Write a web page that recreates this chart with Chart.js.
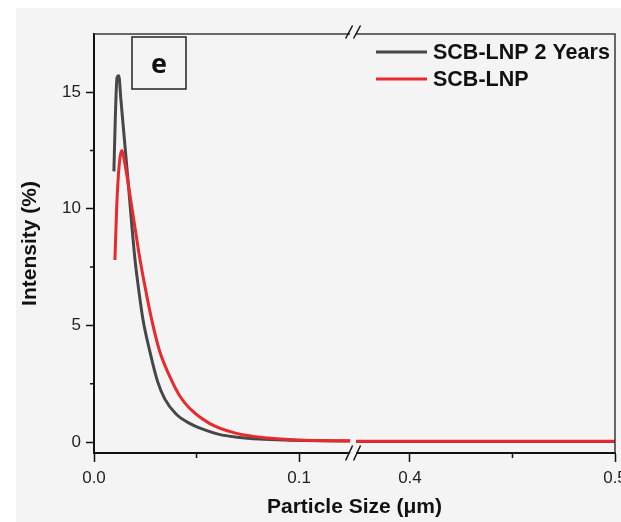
<!DOCTYPE html>
<html>
<head>
<meta charset="utf-8">
<title>Particle size distribution</title>
<script src="https://cdn.jsdelivr.net/npm/chart.js@4/dist/chart.umd.min.js"></script>
<style>
    html, body { margin: 0; padding: 0; background: #ffffff; }
    #wrap { width: 621px; height: 522px; }
</style>
</head>
<body>
<div id="wrap"><canvas id="canvasDls"></canvas></div>
<script>
"use strict";

// ============================================================
// DATA (x in µm, y in %)
// ============================================================
const labelOld = "SCB-LNP 2 Years";
const labelNew = "SCB-LNP";

const sizeOld      = [0.0097, 0.0104, 0.0112, 0.0121, 0.0131, 0.0165, 0.0199, 0.0214, 0.0238, 0.0272, 0.0310, 0.0345, 0.0400, 0.0466, 0.0530, 0.0610, 0.0700, 0.0806, 0.0950, 0.1100, 0.1249, 0.3737, 0.5000];
const intensityOld = [11.6, 13.9, 15.6, 15.7, 14.7, 11.3, 7.9, 6.8, 5.3, 3.9, 2.6, 1.85, 1.2, 0.8, 0.55, 0.33, 0.21, 0.13, 0.08, 0.05, 0.04, 0.02, 0.02];

const sizeNew      = [0.0102, 0.0110, 0.0118, 0.0127, 0.0136, 0.0145, 0.0184, 0.0223, 0.0248, 0.0280, 0.0320, 0.0370, 0.0420, 0.0466, 0.0563, 0.0690, 0.0850, 0.1000, 0.1249, 0.3737, 0.5000];
const intensityNew = [7.8, 9.9, 11.3, 12.2, 12.5, 12.2, 10.1, 7.9, 6.7, 5.3, 3.9, 2.8, 1.95, 1.45, 0.8, 0.38, 0.17, 0.09, 0.05, 0.03, 0.03];

const xTicks      = [0.0, 0.1, 0.4, 0.5];
const xMinorTicks = [0.05, 0.45];
const yTicks      = [0, 5, 10, 15];
const yMinorTicks = [2.5, 7.5, 12.5];

// broken x axis: [0, BREAK_FROM] then [BREAK_TO, X_MAX]
const BREAK_FROM = 0.1249;
const BREAK_TO   = 0.3737;
const BREAK_GAP  = 0.0029;
const X_MAX = 0.5;
const Y_MIN = -0.47;
const Y_MAX = 17.49;

const COL_OLD = "#474747";
const COL_NEW = "#e8292e";
const BG = "#f4f4f4";

// ============================================================
// AXIS BREAK — real value <-> position on the linear scale
// ============================================================
function toAxis(x) {
    if (x <= BREAK_FROM) return x;
    return x - BREAK_TO + BREAK_FROM + BREAK_GAP;
}
function fromAxis(v) {
    if (v <= BREAK_FROM + BREAK_GAP / 2) return v;
    return v - BREAK_FROM - BREAK_GAP + BREAK_TO;
}

// builds {x,y} points, with a null where the axis is broken
function toPoints(sizes, values) {
    let pts = [];
    for (let i = 0; i < sizes.length; i++) {
        if (i > 0 && sizes[i - 1] <= BREAK_FROM && sizes[i] >= BREAK_TO)
            pts.push({ x: BREAK_FROM + BREAK_GAP / 2, y: null });
        pts.push({ x: toAxis(sizes[i]), y: values[i] });
    }
    return pts;
}

// ============================================================
// PLUGINS — background, minor ticks, break marks, legend, label
// ============================================================
const pluginBackground = {
    id: "background",
    beforeDraw(chart) {
        let ctx = chart.ctx;
        ctx.save();
        ctx.fillStyle = "#ffffff";
        ctx.fillRect(0, 0, chart.width, chart.height);
        ctx.fillStyle = BG;
        ctx.fillRect(16, 8, chart.width - 16, chart.height - 8);
        ctx.restore();
    }
};

const pluginFrame = {
    id: "frame",
    afterDraw(chart) {
        let ctx = chart.ctx;
        let a = chart.chartArea;
        let sx = chart.scales.x;
        let sy = chart.scales.y;
        let b1 = sx.getPixelForValue(BREAK_FROM);
        let b2 = sx.getPixelForValue(toAxis(BREAK_TO));
        ctx.save();

        // minor ticks
        ctx.strokeStyle = "#111";
        ctx.lineWidth = 1.5;
        ctx.beginPath();
        for (let i = 0; i < yMinorTicks.length; i++) {
            let py = sy.getPixelForValue(yMinorTicks[i]);
            ctx.moveTo(a.left - 4, py);
            ctx.lineTo(a.left, py);
        }
        for (let i = 0; i < xMinorTicks.length; i++) {
            let px = sx.getPixelForValue(toAxis(xMinorTicks[i]));
            ctx.moveTo(px, a.bottom);
            ctx.lineTo(px, a.bottom + 5);
        }
        ctx.stroke();

        // top and right border, top one broken
        ctx.strokeStyle = "#3a3a3a";
        ctx.lineWidth = 1.5;
        ctx.beginPath();
        ctx.moveTo(a.left, a.top);
        ctx.lineTo(b1, a.top);
        ctx.moveTo(b2, a.top);
        ctx.lineTo(a.right, a.top);
        ctx.lineTo(a.right, a.bottom);
        ctx.stroke();

        // gap in the bottom axis
        ctx.fillStyle = BG;
        ctx.fillRect(b1, a.bottom - 2, b2 - b1, 4);

        // "//" marks
        ctx.strokeStyle = "#111";
        ctx.lineWidth = 1.5;
        ctx.beginPath();
        let marks = [[a.bottom, 7.5], [a.top - 2, 6.5]];
        for (let i = 0; i < marks.length; i++) {
            let cy = marks[i][0];
            let h = marks[i][1];
            ctx.moveTo(b1 - 1 - 3.5, cy + h);
            ctx.lineTo(b1 - 1 + 3.5, cy - h);
            ctx.moveTo(b2 + 1 - 3.5, cy + h);
            ctx.lineTo(b2 + 1 + 3.5, cy - h);
        }
        ctx.stroke();
        ctx.restore();
    }
};

const pluginLegend = {
    id: "insideLegend",
    afterDraw(chart) {
        let ctx = chart.ctx;
        let items = [[labelOld, COL_OLD, 52], [labelNew, COL_NEW, 79]];
        ctx.save();
        ctx.font = "bold 21.5px 'Liberation Sans', Arial, sans-serif";
        ctx.textBaseline = "middle";
        ctx.textAlign = "left";
        for (let i = 0; i < items.length; i++) {
            ctx.strokeStyle = items[i][1];
            ctx.lineWidth = 3;
            ctx.beginPath();
            ctx.moveTo(376, items[i][2]);
            ctx.lineTo(427, items[i][2]);
            ctx.stroke();
            ctx.fillStyle = "#111";
            ctx.fillText(items[i][0], 433, items[i][2] + 1);
        }

        // panel letter "e" in its box
        ctx.strokeStyle = "#222";
        ctx.lineWidth = 1.5;
        ctx.strokeRect(132, 37, 54, 52);
        ctx.fillStyle = "#111";
        ctx.font = "bold 27px 'Open Sans', sans-serif";
        ctx.textAlign = "center";
        ctx.fillText("e", 159, 65);
        ctx.restore();
    }
};

// ============================================================
// CHART
// ============================================================
Chart.defaults.font.family = "'Liberation Sans', Arial, sans-serif";

let graficoDls = new Chart(document.getElementById("canvasDls"), {
    type: "line",
    data: {
        datasets: [
            {
                label: labelNew,
                data: toPoints(sizeNew, intensityNew),
                borderColor: COL_NEW,
                borderWidth: 3,
                cubicInterpolationMode: "monotone",
                spanGaps: false
            },
            {
                label: labelOld,
                data: toPoints(sizeOld, intensityOld),
                borderColor: COL_OLD,
                borderWidth: 3,
                cubicInterpolationMode: "monotone",
                spanGaps: false
            }
        ]
    },
    options: {
        responsive: true,
        maintainAspectRatio: false,
        animation: false,
        layout: { padding: { top: 34, right: 6, left: 0, bottom: 0 } },
        elements: { point: { radius: 0 } },
        plugins: {
            legend: { display: false },
            tooltip: { enabled: false }
        },
        scales: {
            x: {
                type: "linear",
                min: 0,
                max: toAxis(X_MAX),
                afterBuildTicks: function (s) {
                    s.ticks = xTicks.map(v => ({ value: toAxis(v) }));
                },
                afterFit: function (s) {
                    s.height = 69;
                    s.paddingLeft = 0;
                    s.paddingRight = 0;
                },
                ticks: {
                    callback: v => fromAxis(v).toFixed(1),
                    autoSkip: false,
                    maxRotation: 0,
                    padding: 6,
                    color: "#222",
                    font: { size: 17 }
                },
                grid: { drawOnChartArea: false, tickLength: 9, tickColor: "#111", tickWidth: 1.5 },
                border: { color: "#111", width: 2 },
                title: {
                    display: true,
                    text: "Particle Size (μm)",
                    color: "#111",
                    font: { size: 21, weight: "bold" },
                    padding: { top: 0, bottom: 2 }
                }
            },
            y: {
                min: Y_MIN,
                max: Y_MAX,
                afterBuildTicks: function (s) {
                    s.ticks = yTicks.map(v => ({ value: v }));
                },
                afterFit: function (s) {
                    s.width = 94;
                    s.paddingTop = 0;
                    s.paddingBottom = 0;
                },
                ticks: {
                    callback: v => String(v),
                    padding: 5,
                    color: "#222",
                    font: { size: 17 }
                },
                grid: { drawOnChartArea: false, tickLength: 8, tickColor: "#111", tickWidth: 1.5 },
                border: { color: "#111", width: 2 },
                title: {
                    display: true,
                    text: "Intensity (%)",
                    color: "#111",
                    font: { size: 21, weight: "bold" },
                    padding: { top: 18, bottom: 0 }
                }
            }
        }
    },
    plugins: [pluginBackground, pluginFrame, pluginLegend]
});
</script>
</body>
</html>
